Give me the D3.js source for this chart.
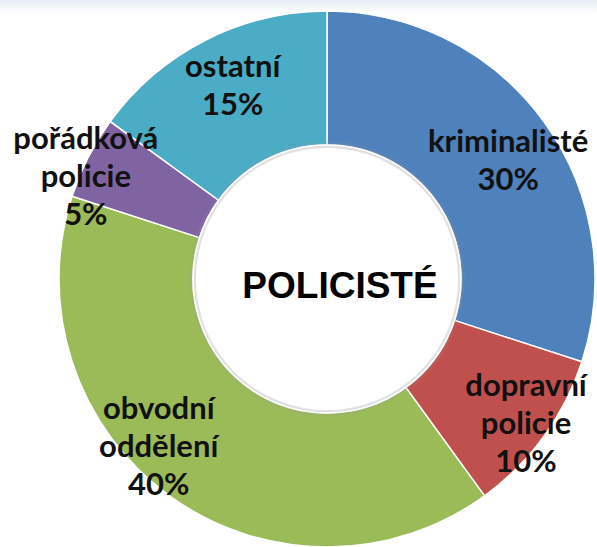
<!DOCTYPE html>
<html>
<head>
<meta charset="utf-8">
<script src="https://cdn.jsdelivr.net/npm/d3@7"></script>
<style>
  html, body { margin: 0; padding: 0; background: #fff; }
  #graphicContainer { width: 597px; height: 547px; }
  .sliceLabel { font-family: Lato, "Open Sans", sans-serif; font-weight: 700; fill: #111; }
  .centerLabel { font-family: "Liberation Sans", Arial, sans-serif; font-weight: 700; fill: #000; }
</style>
</head>
<body>
<div id="graphicContainer"></div>
<script>

// data
const categories = ["kriminalisté", "dopravní policie", "obvodní oddělení", "pořádková policie", "ostatní"]
const shares = [30, 10, 40, 5, 15]
const labelLines = [
  ["kriminalisté", "30%"],
  ["dopravní", "policie", "10%"],
  ["obvodní", "oddělení", "40%"],
  ["pořádková", "policie", "5%"],
  ["ostatní", "15%"]
]
const centerTitle = "POLICISTÉ"

// styling
const colors = ["#4F81BD", "#C0504D", "#9BBB59", "#8064A2", "#4BACC6"]
// label placement (radius from centre, angle nudge in degrees) like Excel best fit
const labelPlace = [
  { r: 216, nudge: 3 },
  { r: 246, nudge: 0 },
  { r: 238, nudge: 9 },
  { r: 262, nudge: -4 },
  { r: 215, nudge: 1 }
]

const width = 597
const height = 547
const cx = 327
const cy = 279
const outerR = 268
const innerR = 134

const svg = d3.select("#graphicContainer").append("svg")
  .attr("width", width)
  .attr("height", height)

const defs = svg.append("defs")

const topGrad = defs.append("linearGradient")
  .attr("id", "topGrad").attr("x1", 0).attr("x2", 0).attr("y1", 0).attr("y2", 1)
topGrad.append("stop").attr("offset", "0%").attr("stop-color", "#e6edf5")
topGrad.append("stop").attr("offset", "100%").attr("stop-color", "#ffffff")

const shadow = defs.append("filter").attr("id", "innerShadow")
  .attr("x", "-20%").attr("y", "-20%").attr("width", "140%").attr("height", "140%")
shadow.append("feGaussianBlur").attr("stdDeviation", 2.5)

svg.append("rect")
  .attr("width", width).attr("height", 14)
  .attr("fill", "url(#topGrad)")

const g = svg.append("g")
  .attr("transform", `translate(${cx},${cy})`)

const pie = d3.pie()
  .sort(null)
  .value(d => d)

const arcs = pie(shares)

const arc = d3.arc()
  .innerRadius(innerR)
  .outerRadius(outerR)

g.selectAll("path.slice")
  .data(arcs)
  .enter()
  .append("path")
  .attr("class", "slice")
  .attr("d", arc)
  .attr("fill", (d, i) => colors[i])
  .attr("stroke", "#fff")
  .attr("stroke-width", 1.5)

// soft shadow round the hole
g.append("circle")
  .attr("r", innerR - 1)
  .attr("fill", "none")
  .attr("stroke", "#9a9a9a")
  .attr("stroke-width", 3)
  .attr("filter", "url(#innerShadow)")
  .attr("opacity", 0.7)

g.append("circle")
  .attr("r", innerR - 3)
  .attr("fill", "#fff")

g.append("circle")
  .attr("r", innerR)
  .attr("fill", "none")
  .attr("stroke", "#fff")
  .attr("stroke-width", 1.5)

// slice labels
const lineH = 38
const labels = g.selectAll("text.sliceLabel")
  .data(arcs)
  .enter()
  .append("text")
  .attr("class", "sliceLabel")
  .attr("text-anchor", "middle")
  .attr("font-size", 31)
  .attr("transform", (d, i) => {
    const a = (d.startAngle + d.endAngle) / 2 + labelPlace[i].nudge * Math.PI / 180
    const r = labelPlace[i].r
    return `translate(${r * Math.sin(a)},${-r * Math.cos(a)})`
  })

labels.each(function (d, i) {
  const lines = labelLines[i]
  const t = d3.select(this)
  lines.forEach((ln, k) => {
    t.append("tspan")
      .attr("x", 0)
      .attr("y", (k - (lines.length - 1) / 2) * lineH + 10)
      .text(ln)
  })
})

g.append("text")
  .attr("class", "centerLabel")
  .attr("text-anchor", "middle")
  .attr("x", 13)
  .attr("y", 19)
  .attr("font-size", 37)
  .text(centerTitle)

</script>
</body>
</html>
